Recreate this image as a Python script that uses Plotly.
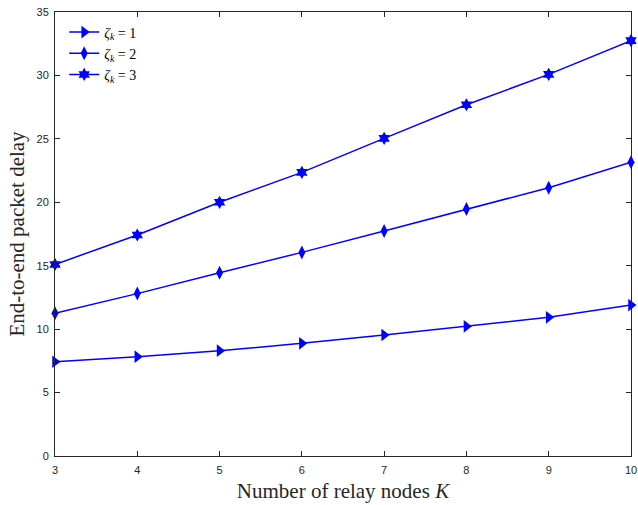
import plotly.graph_objects as go

K = [3, 4, 5, 6, 7, 8, 9, 10]
delay_zeta1 = [7.43, 7.83, 8.3, 8.88, 9.54, 10.22, 10.93, 11.9]
delay_zeta2 = [11.25, 12.8, 14.45, 16.05, 17.74, 19.47, 21.15, 23.15]
delay_zeta3 = [15.1, 17.42, 20.0, 22.36, 25.04, 27.69, 30.08, 32.74]
names = ["<i>ζ</i><sub><i>k</i></sub> = 1", "<i>ζ</i><sub><i>k</i></sub> = 2", "<i>ζ</i><sub><i>k</i></sub> = 3"]
symbols = ["triangle-right", "diamond-tall", "hexagram"]
sizes = [11, 10, 10]

fig = go.Figure()
for ys, nm, sym, sz in zip([delay_zeta1, delay_zeta2, delay_zeta3], names, symbols, sizes):
    fig.add_trace(go.Scatter(
        x=K, y=ys, name=nm, mode="lines+markers", cliponaxis=False,
        line=dict(color="#0000FF", width=1.5),
        marker=dict(symbol=sym, size=sz, color="#0000FF", line=dict(width=0)),
    ))

axis_common = dict(
    showgrid=False, zeroline=False, showline=True, mirror="ticks",
    linecolor="#262626", linewidth=1, ticks="inside", ticklen=5,
    tickcolor="#262626", automargin=False,
    tickfont=dict(family="Liberation Sans, Arial", size=11, color="#262626"),
)
fig.update_xaxes(range=[3, 10], dtick=1, ticklabelstandoff=4, **axis_common,
                 title=dict(text="Number of relay nodes <i>K</i>",
                            font=dict(family="Liberation Serif, serif", size=21, color="#262626"),
                            standoff=8))
fig.update_yaxes(range=[0, 35], dtick=5, ticklabelstandoff=3, **axis_common,
                 title=dict(text="End-to-end packet delay",
                            font=dict(family="Liberation Serif, serif", size=21, color="#262626"),
                            standoff=6))
fig.update_layout(
    width=638, height=505,
    margin=dict(l=55, r=7, t=12, b=49),
    plot_bgcolor="white", paper_bgcolor="white",
    legend=dict(x=0.016, y=0.99, xanchor="left", yanchor="top",
                bgcolor="rgba(0,0,0,0)", borderwidth=0,
                font=dict(family="Liberation Serif, serif", size=14, color="#000000"),
                tracegroupgap=0, itemwidth=30),
)
fig.write_html("out.html", config={"displayModeBar": False},
               post_script="document.body.style.margin='0';")
